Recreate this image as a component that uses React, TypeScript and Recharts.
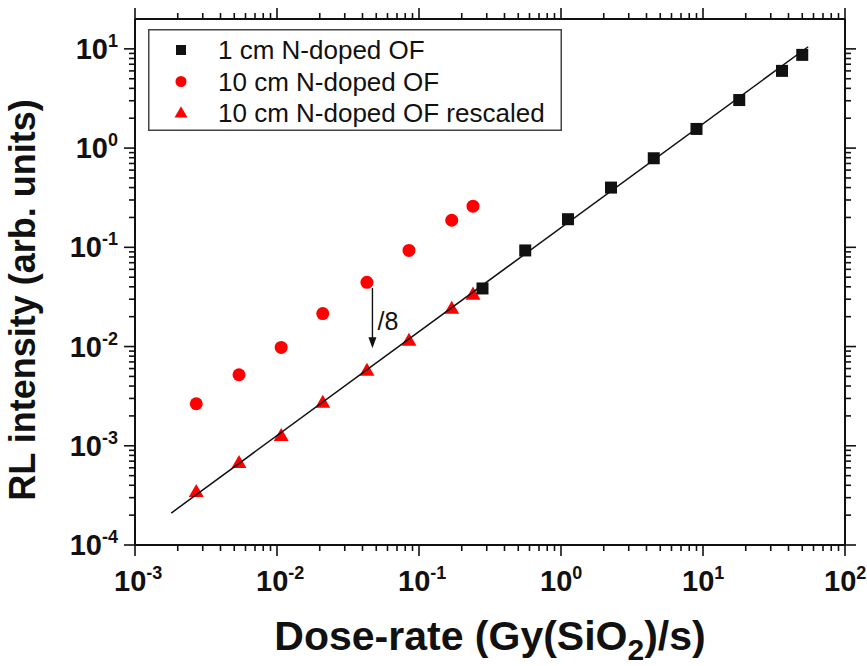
import React from "react";
import { ScatterChart, Scatter, XAxis, YAxis, ReferenceLine, Legend } from "recharts";

const FONT = "Arial, 'Liberation Sans', Helvetica, sans-serif";
const INK = "#111111";
const RED = "#ff0000";

// 1 cm N-doped fibre
const dose1cm = [0.28, 0.56, 1.12, 2.25, 4.5, 9, 18, 36, 50];
const rl1cm = [0.0385, 0.093, 0.192, 0.4, 0.79, 1.56, 3.05, 6.0, 8.7];

// 10 cm N-doped fibre, raw and divided by 8
const dose10cm = [0.0027, 0.0054, 0.0107, 0.021, 0.043, 0.085, 0.17, 0.24];
const rl10cm = [0.00265, 0.0052, 0.0098, 0.0215, 0.0444, 0.093, 0.1875, 0.26];
const rl10cmRescaled = [0.000343, 0.000673, 0.00126, 0.00272, 0.00573, 0.0115, 0.0242, 0.0335];

// linear fit (log-log), end points
const fitDose = [0.0018, 55];
const fitRL = [0.00021, 10.5];

// "/8" arrow
const arrowDose = 0.047;
const arrowFrom = 0.039;
const arrowTo = 0.0096;
const arrowText = "/8";

const seriesNames = ["1 cm N-doped OF", "10 cm N-doped OF", "10 cm N-doped OF rescaled"];
const xTitle = "Dose-rate (Gy(SiO";
const xTitleSub = "2";
const xTitleEnd = ")/s)";
const yTitle = "RL intensity (arb. units)";

const xMajors = [1e-3, 1e-2, 1e-1, 1, 10, 100];
const yMajors = [1e-4, 1e-3, 1e-2, 1e-1, 1, 10];
const X_DOMAIN: [number, number] = [1e-3, 100];
const Y_DOMAIN: [number, number] = [1e-4, 20];

const zip = (xs: number[], ys: number[]) => xs.map((x, i) => ({ x, y: ys[i] }));
const data1cm = zip(dose1cm, rl1cm);
const data10cm = zip(dose10cm, rl10cm);
const data10cmRescaled = zip(dose10cm, rl10cmRescaled);
const fitData = zip(fitDose, fitRL);

function withMinors(majors: number[], max: number) {
  const out: number[] = [];
  majors.forEach((m) => {
    out.push(m);
    for (let k = 2; k <= 9; k++) if (m * k < max * 0.999) out.push(m * k);
  });
  return out;
}
const xTicks = withMinors(xMajors, X_DOMAIN[1]);
const yTicks = withMinors(yMajors, Y_DOMAIN[1]);

const isDecade = (v: number) => Math.abs(Math.log10(v) - Math.round(Math.log10(v))) < 1e-6;
const exponent = (v: number) => String(Math.round(Math.log10(v)));

const MAJOR = 11;
const MINOR = 6;
const TICK_W = 1.6;

function PowerLabel({ x, y, exp, anchor }: { x: number; y: number; exp: string; anchor: string }) {
  return (
    <text x={x} y={y} textAnchor={anchor as any} fontFamily={FONT} fontWeight="bold" fontSize={29} fill={INK}>
      10
      <tspan fontSize={18} dy={-12}>
        {exp}
      </tspan>
    </text>
  );
}

function BottomTick(props: any) {
  const { x, y, payload } = props;
  const major = isDecade(payload.value);
  return (
    <g>
      <line x1={x} y1={y} x2={x} y2={y + (major ? MAJOR : MINOR)} stroke={INK} strokeWidth={TICK_W} />
      {major && <PowerLabel x={x - 21} y={y + 46} exp={exponent(payload.value)} anchor="start" />}
    </g>
  );
}

function TopTick(props: any) {
  const { x, y, payload } = props;
  const major = isDecade(payload.value);
  return <line x1={x} y1={y} x2={x} y2={y - (major ? MAJOR : MINOR)} stroke={INK} strokeWidth={TICK_W} />;
}

function LeftTick(props: any) {
  const { x, y, payload } = props;
  const major = isDecade(payload.value);
  return (
    <g>
      <line x1={x} y1={y} x2={x - (major ? MAJOR : MINOR)} y2={y} stroke={INK} strokeWidth={TICK_W} />
      {major && <PowerLabel x={x - 17} y={y + 10} exp={exponent(payload.value)} anchor="end" />}
    </g>
  );
}

function RightTick(props: any) {
  const { x, y, payload } = props;
  const major = isDecade(payload.value);
  return <line x1={x} y1={y} x2={x + (major ? MAJOR : MINOR)} y2={y} stroke={INK} strokeWidth={TICK_W} />;
}

const Blank = () => <g />;

function XTitle(props: any) {
  const vb = props.viewBox || { x: 135, y: 545, width: 710, height: 1 };
  return (
    <text
      x={vb.x + vb.width / 2}
      y={vb.y + 105}
      textAnchor="middle"
      fontFamily={FONT}
      fontWeight="bold"
      fontSize={41}
      fill={INK}
    >
      {xTitle}
      <tspan fontSize={30} dy={10}>
        {xTitleSub}
      </tspan>
      <tspan dy={-10}>{xTitleEnd}</tspan>
    </text>
  );
}

function YTitle(props: any) {
  const vb = props.viewBox || { x: 134, y: 19, width: 1, height: 526 };
  const cx = vb.x + vb.width - 100;
  const cy = vb.y + vb.height / 2 + 18;
  return (
    <text
      x={cx}
      y={cy}
      transform={`rotate(-90 ${cx} ${cy})`}
      textAnchor="middle"
      fontFamily={FONT}
      fontWeight="bold"
      fontSize={36}
      fill={INK}
    >
      {yTitle}
    </text>
  );
}

function SquareDot({ cx, cy, s = 12 }: any) {
  return <rect x={cx - s / 2} y={cy - s / 2} width={s} height={s} fill={INK} />;
}
function CircleDot({ cx, cy, s = 13 }: any) {
  return <circle cx={cx} cy={cy} r={s / 2} fill={RED} />;
}
function TriangleDot({ cx, cy, s = 15 }: any) {
  const h = s * 0.87;
  return (
    <polygon
      points={`${cx},${cy - h * 0.6} ${cx + s / 2},${cy + h * 0.4} ${cx - s / 2},${cy + h * 0.4}`}
      fill={RED}
    />
  );
}

function ArrowShape(props: any) {
  const { x1, y1, x2, y2 } = props;
  return (
    <g>
      <line x1={x1} y1={y1} x2={x2} y2={y2 - 8} stroke={INK} strokeWidth={1.4} />
      <polygon points={`${x2},${y2} ${x2 - 4},${y2 - 11} ${x2 + 4},${y2 - 11}`} fill={INK} />
      <text x={x1 + 5} y={(y1 + y2) / 2 + 12} fontFamily={FONT} fontSize={25} fill={INK}>
        {arrowText}
      </text>
    </g>
  );
}

function LegendBox() {
  const dots = [SquareDot, CircleDot, TriangleDot];
  const sizes = [10, 11, 13];
  return (
    <svg width={414} height={102} style={{ display: "block" }}>
      <rect x={0.75} y={0.75} width={412.5} height={100.5} fill="#fff" stroke="#444" strokeWidth={1.5} />
      {seriesNames.map((name, i) => {
        const Dot = dots[i];
        const cy = 21 + i * 31.5;
        return (
          <g key={name}>
            <Dot cx={33} cy={cy} s={sizes[i]} />
            <text x={70} y={cy + 9} fontFamily={FONT} fontSize={26} fill={INK}>
              {name}
            </text>
          </g>
        );
      })}
    </svg>
  );
}

const axisLine = { stroke: INK, strokeWidth: 2 };

export default function App() {
  return (
    <div style={{ position: "absolute", left: 0, top: 0, width: 867, height: 666, background: "#fff" }}>
      <ScatterChart width={867} height={666} margin={{ top: 18, right: 21, bottom: 120, left: 134 }}>
        <XAxis
          xAxisId="b"
          dataKey="x"
          type="number"
          scale="log"
          domain={X_DOMAIN}
          allowDataOverflow
          ticks={xTicks}
          interval={0}
          height={1}
          tickLine={false}
          tickSize={0}
          tickMargin={0}
          tick={BottomTick}
          axisLine={axisLine}
          label={XTitle}
        />
        <XAxis
          xAxisId="t"
          orientation="top"
          dataKey="x"
          type="number"
          scale="log"
          domain={X_DOMAIN}
          allowDataOverflow
          ticks={xTicks}
          interval={0}
          height={1}
          tickLine={false}
          tickSize={0}
          tickMargin={0}
          tick={TopTick}
          axisLine={axisLine}
        />
        <YAxis
          yAxisId="l"
          dataKey="y"
          type="number"
          scale="log"
          domain={Y_DOMAIN}
          allowDataOverflow
          ticks={yTicks}
          interval={0}
          width={1}
          tickLine={false}
          tickSize={0}
          tickMargin={0}
          tick={LeftTick}
          axisLine={axisLine}
          label={YTitle}
        />
        <YAxis
          yAxisId="r"
          orientation="right"
          dataKey="y"
          type="number"
          scale="log"
          domain={Y_DOMAIN}
          allowDataOverflow
          ticks={yTicks}
          interval={0}
          width={1}
          tickLine={false}
          tickSize={0}
          tickMargin={0}
          tick={RightTick}
          axisLine={axisLine}
        />
        <Legend
          layout="vertical"
          verticalAlign="middle"
          align="center"
          wrapperStyle={{ position: "absolute", left: 148, top: 29, width: 414, height: 102 }}
          content={() => <LegendBox />}
        />
        <Scatter
          name={seriesNames[1]}
          data={data10cm}
          xAxisId="b"
          yAxisId="l"
          shape={CircleDot}
          isAnimationActive={false}
        />
        <Scatter
          name={seriesNames[2]}
          data={data10cmRescaled}
          xAxisId="b"
          yAxisId="l"
          shape={TriangleDot}
          isAnimationActive={false}
        />
        <Scatter
          name={seriesNames[0]}
          data={data1cm}
          xAxisId="b"
          yAxisId="l"
          shape={SquareDot}
          isAnimationActive={false}
        />
        <Scatter
          name="fit"
          legendType="none"
          data={fitData}
          xAxisId="b"
          yAxisId="l"
          line={{ stroke: INK, strokeWidth: 1.5 }}
          shape={Blank}
          isAnimationActive={false}
        />
        <ReferenceLine
          xAxisId="b"
          yAxisId="l"
          segment={[
            { x: arrowDose, y: arrowFrom },
            { x: arrowDose, y: arrowTo },
          ]}
          shape={ArrowShape}
        />
      </ScatterChart>
    </div>
  );
}
